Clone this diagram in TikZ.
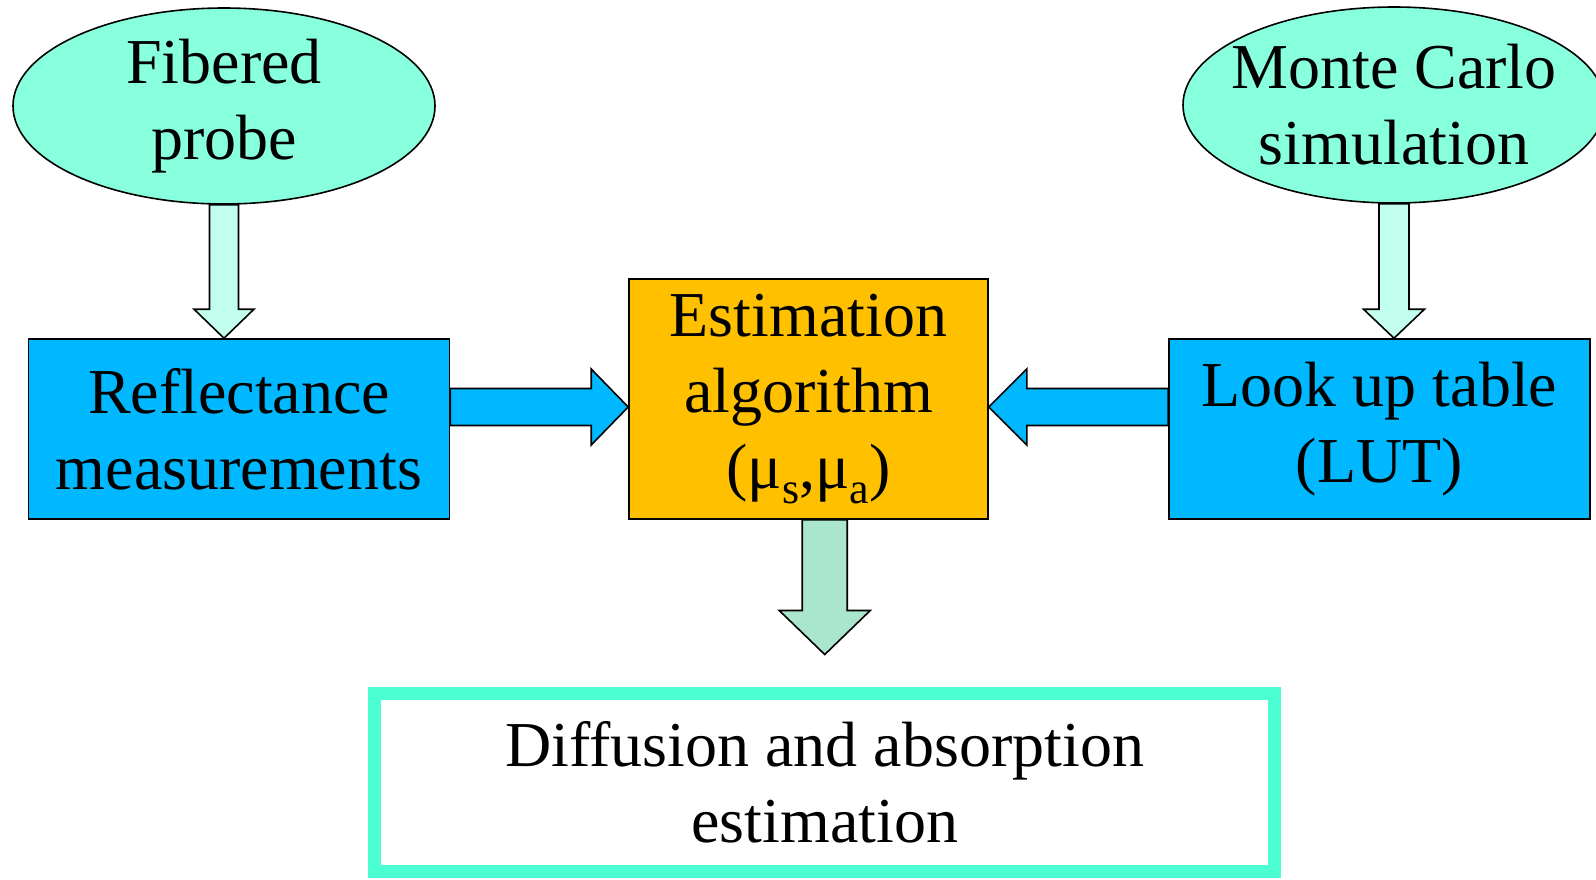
\documentclass[tikz,border=0pt]{standalone}
\usepackage{fontspec}
\setmainfont{Liberation Serif}
\usepackage{tikz}
\usetikzlibrary{calc,shapes.geometric}
\definecolor{fpaqua}{HTML}{88FFDD}
\definecolor{fpmint}{HTML}{C2FFEE}
\definecolor{fpblue}{HTML}{00B8FF}
\definecolor{fporange}{HTML}{FFC000}
\definecolor{fpsage}{HTML}{AAE5CD}
\definecolor{fpteal}{HTML}{4BFFD3}
\tikzset{
  every picture/.style={line join=miter},
  txt/.style={font=\fontsize{32}{38}\selectfont, align=center, text=black},
  oval/.style={txt, ellipse, draw=black, line width=0.8pt, fill=fpaqua,
    minimum width=211pt, minimum height=98pt, inner xsep=-10pt, inner ysep=0pt},
  blockbox/.style={txt, rectangle, draw=black, line width=0.8pt, inner sep=0pt},
  fat/.style={draw=black, line width=0.8pt},
}
\newcommand{\lowsub}[1]{\raisebox{-0.5ex}{\fontsize{22}{22}\selectfont #1}}
% block arrow: style, from, to, shaft half width, head half width, head length
\newcommand{\blockarrow}[6]{%
  \path ($(#3)!#6!(#2)$) coordinate (bh);
  \draw[#1] ($(#2)!#4!90:(#3)$) -- ($(bh)!#4!90:(#3)$) -- ($(bh)!#5!90:(#3)$)
    -- (#3) -- ($(bh)!#5!-90:(#3)$) -- ($(bh)!#4!-90:(#3)$)
    -- ($(#2)!#4!-90:(#3)$) -- cycle;}
\begin{document}
\begin{tikzpicture}[x=0.5pt, y=-0.5pt]
\useasboundingbox (0,0) rectangle (1596,879);
% sources
\node[oval] (probe) at (224,106) {Fibered\\probe};
\node[oval] (mc) at (1394,105) {Monte Carlo\\simulation};
% blocks
\node[blockbox, fill=fpblue, minimum width=210.5pt, minimum height=90pt] (refl) at (239,429) {Reflectance\\measurements};
\node[blockbox, fill=fporange, minimum width=179.5pt, minimum height=120pt] (est) at (808.5,399) {Estimation\\algorithm\\(μ\lowsub{s},μ\lowsub{a})};
\node[blockbox, fill=fpblue, minimum width=210.5pt, minimum height=90pt] (lut) at (1379.5,429) {Look up table\\(LUT)};
\node[blockbox, draw=fpteal, line width=6.5pt, fill=white, minimum width=450pt, minimum height=89pt] (result) at (824.75,782) {Diffusion and absorption\\estimation};
% arrows
\coordinate (pt) at (probe.south |- refl.north);
\blockarrow{fat, fill=fpmint}{probe.south}{pt}{7.25pt}{15pt}{14.5pt}
\coordinate (mt) at (mc.south |- lut.north);
\blockarrow{fat, fill=fpmint}{mc.south}{mt}{7.5pt}{15.25pt}{14.5pt}
\coordinate (ra) at ([yshift=11pt]refl.east);
\coordinate (rb) at (est.west |- ra);
\blockarrow{fat, fill=fpblue}{ra}{rb}{9.25pt}{19pt}{18.5pt}
\coordinate (la) at (lut.west |- ra);
\coordinate (lb) at (est.east |- ra);
\blockarrow{fat, fill=fpblue}{la}{lb}{9.25pt}{19pt}{19pt}
\coordinate (dt) at ([yshift=16pt]result.north);
\coordinate (ds) at (est.south -| dt);
\blockarrow{fat, fill=fpsage}{ds}{dt}{11.25pt}{22.75pt}{22pt}
\end{tikzpicture}
\end{document}
